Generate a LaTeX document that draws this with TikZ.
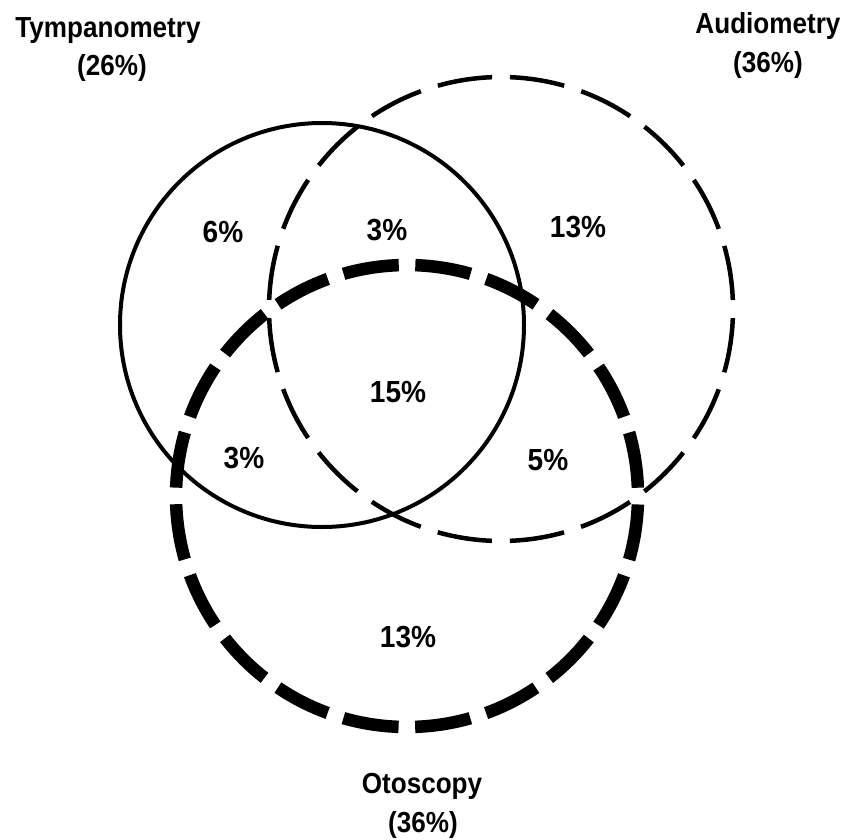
\documentclass[tikz,border=0pt]{standalone}
\usepackage{fontspec}
\setmainfont{Liberation Sans}
\begin{document}
\begin{tikzpicture}[x=1pt,y=-1pt,
  lbl/.style={font=\fontsize{29}{32}\selectfont\bfseries, inner sep=0pt, anchor=base, xscale=0.9},
  pct/.style={font=\fontsize{30.5}{34}\selectfont\bfseries, inner sep=0pt, anchor=base, xscale=0.92},
  tymp/.style={line width=4pt},
  aud/.style={line width=4.5pt, dash pattern=on 55pt off 17.885pt, dash phase=63.94pt},
  oto/.style={line width=12.5pt, dash pattern=on 56pt off 16.571pt, dash phase=64.29pt}]
\useasboundingbox (0,0) rectangle (847,839);
% circles
\draw[tymp] (322,325) circle[radius=202pt];
\draw[aud] (501,309) circle[radius=232pt];
\draw[oto] (407,496) circle[radius=231pt];
% set labels
\node[lbl] (tname) at (108,37) {Tympanometry};
\node[lbl] (tpct) at (112,75) {(26\%)};
\node[lbl] (aname) at (768,33) {Audiometry};
\node[lbl] (apct) at (768,72) {(36\%)};
\node[lbl] (oname) at (422,793) {Otoscopy};
\node[lbl] (opct) at (423,832) {(36\%)};
% region values
\node[pct] (r1) at (223,242) {6\%};
\node[pct] (r2) at (387,240) {3\%};
\node[pct] (r3) at (578,237) {13\%};
\node[pct] (r4) at (398,402) {15\%};
\node[pct] (r5) at (244,468) {3\%};
\node[pct] (r6) at (548,470) {5\%};
\node[pct] (r7) at (408,647) {13\%};
\end{tikzpicture}
\end{document}
